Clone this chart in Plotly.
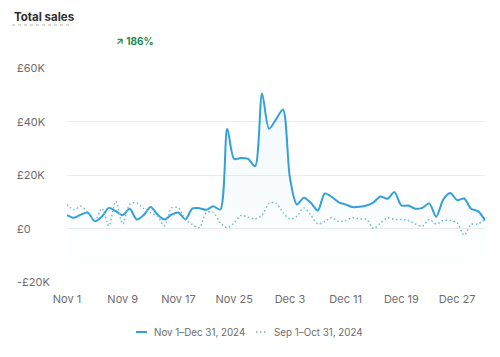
import plotly.graph_objects as go
import pandas as pd

# ---- data ----
dates = pd.date_range("2024-11-01", "2024-12-31", freq="D")
current_sales = [5.0, 4.0, 5.2, 5.9, 2.7, 4.4, 7.7, 6.5, 5.0, 7.4,
                 3.4, 5.0, 8.0, 5.2, 3.4, 5.2, 6.0, 3.4, 7.5, 7.6,
                 7.0, 8.3, 7.1, 37.3, 26.0, 26.4, 26.0, 23.3, 50.5, 37.3,
                 40.8, 44.5, 19.0, 9.0, 11.5, 9.6, 6.7, 13.1, 11.8, 9.8,
                 9.0, 8.0, 8.1, 8.6, 9.8, 12.0, 11.1, 13.6, 8.6, 8.6,
                 7.4, 7.7, 9.4, 4.4, 10.8, 13.3, 10.6, 11.2, 7.4, 6.5, 3.1]
previous_sales = [9.0, 7.0, 8.3, 5.9, 3.0, 7.5, 1.0, 10.2, 1.7, 9.0,
                  9.6, 7.5, 5.9, 4.6, 1.0, 7.7, 7.7, 3.4, 1.5, 0.3,
                  5.9, 6.0, 2.1, 0.3, 2.1, 4.9, 4.2, 3.6, 5.0, 9.4,
                  9.5, 6.0, 3.5, 4.6, 7.7, 5.0, 1.7, 2.6, 4.1, 2.6,
                  3.0, 4.0, 3.6, 3.4, 0.0, 2.0, 4.0, 3.4, 3.4, 3.0,
                  1.7, 0.9, 3.4, 1.7, 3.0, 3.0, 2.1, -2.5, 1.5, 1.7, 3.4]
current_sales = [v * 1000 for v in current_sales]
previous_sales = [v * 1000 for v in previous_sales]
tick_dates = pd.date_range("2024-11-01", "2024-12-27", freq="8D")
tick_labels = ["Nov 1", "Nov 9", "Nov 17", "Nov 25", "Dec 3", "Dec 11", "Dec 19", "Dec 27"]
y_ticks = [60000, 40000, 20000, 0, -20000]
y_tick_labels = ["£60K", "£40K", "£20K", "£0", "-£20K"]
y_min, y_max = -20000, 60000
legend_names = ["Nov 1–Dec 31, 2024", "Sep 1–Oct 31, 2024"]
change_text = "↗ 186%"
title_text = "Total sales"

BLUE = "rgb(52,160,218)"
LIGHT = "rgb(110,182,225)"
FONT = "Inter"
GRAY = "#6d6d6d"
DOT = "1.5px,2.5px"

L, R, T, B = 67, 15, 68, 75
W = 500 - L - R
H = 357 - T - B

def px_x(p):
    return (p - L) / W

def px_y(p):
    return (357 - B - p) / H

fig = go.Figure()
# baseline for the gradient fill (bottom of axis)
fig.add_trace(go.Scatter(x=dates, y=[y_min] * len(dates), mode="lines",
                         line=dict(width=0), hoverinfo="skip", showlegend=False))
fig.add_trace(go.Scatter(
    x=dates, y=current_sales, mode="lines", name=legend_names[0], showlegend=False,
    line=dict(color=BLUE, width=2, shape="spline", smoothing=0.8),
    fill="tonexty",
    fillgradient=dict(type="vertical", start=y_min, stop=50000,
                      colorscale=[[0, "rgba(52,160,218,0)"], [1, "rgba(52,160,218,0.07)"]]),
))
fig.add_trace(go.Scatter(
    x=dates, y=previous_sales, mode="lines", name=legend_names[1], showlegend=False,
    line=dict(color=LIGHT, width=1.5, dash=DOT, shape="spline", smoothing=0.8),
))

for v, t in zip(y_ticks, y_tick_labels):
    fig.add_annotation(x=px_x(15), xref="paper", xanchor="left", y=v, yref="y",
                       text=t, showarrow=False, font=dict(family=FONT, size=11, color=GRAY))

fig.add_annotation(x=px_x(12), xref="paper", y=px_y(17), yref="paper",
                   text="<b>" + title_text + "</b>", showarrow=False, xanchor="left", yanchor="middle",
                   font=dict(family=FONT, size=11.5, color="#303030"))
fig.add_annotation(x=px_x(114), xref="paper", y=px_y(41), yref="paper",
                   text="<b>" + change_text + "</b>", showarrow=False, xanchor="left", yanchor="middle",
                   font=dict(family=FONT, size=10, color="#1f8a4f"))
fig.add_shape(type="line", xref="paper", yref="paper",
              x0=px_x(12), x1=px_x(71), y0=px_y(25), y1=px_y(25),
              line=dict(color="#b5b5b5", width=1, dash="dot"))

# legend (custom, compact)
fig.add_shape(type="line", xref="paper", yref="paper",
              x0=px_x(136), x1=px_x(147), y0=px_y(332), y1=px_y(332),
              line=dict(color=BLUE, width=2))
fig.add_shape(type="line", xref="paper", yref="paper",
              x0=px_x(256), x1=px_x(267), y0=px_y(332), y1=px_y(332),
              line=dict(color=LIGHT, width=1.5, dash=DOT))
fig.add_annotation(x=px_x(152), xref="paper", y=px_y(332), yref="paper",
                   text=legend_names[0], showarrow=False, xanchor="left", yanchor="middle",
                   font=dict(family=FONT, size=9.8, color=GRAY))
fig.add_annotation(x=px_x(272), xref="paper", y=px_y(332), yref="paper",
                   text=legend_names[1], showarrow=False, xanchor="left", yanchor="middle",
                   font=dict(family=FONT, size=9.8, color=GRAY))

fig.update_layout(
    width=500, height=357,
    margin=dict(l=L, r=R, t=T, b=B),
    paper_bgcolor="white", plot_bgcolor="white",
    font=dict(family=FONT, size=11, color=GRAY),
    showlegend=False,
    xaxis=dict(range=[dates[0], dates[-1]], tickvals=list(tick_dates), ticktext=tick_labels,
               showgrid=False, zeroline=False, showline=False,
               ticks="outside", ticklen=7, tickcolor="rgba(0,0,0,0)",
               tickfont=dict(family=FONT, size=11, color=GRAY)),
    yaxis=dict(range=[y_min, y_max], tickvals=y_ticks, showticklabels=False,
               showgrid=True, gridcolor="#ececec", gridwidth=1, zeroline=False, showline=False),
)

fig.write_html("out.html", config={"displayModeBar": False},
               post_script="document.body.style.margin='0';")
